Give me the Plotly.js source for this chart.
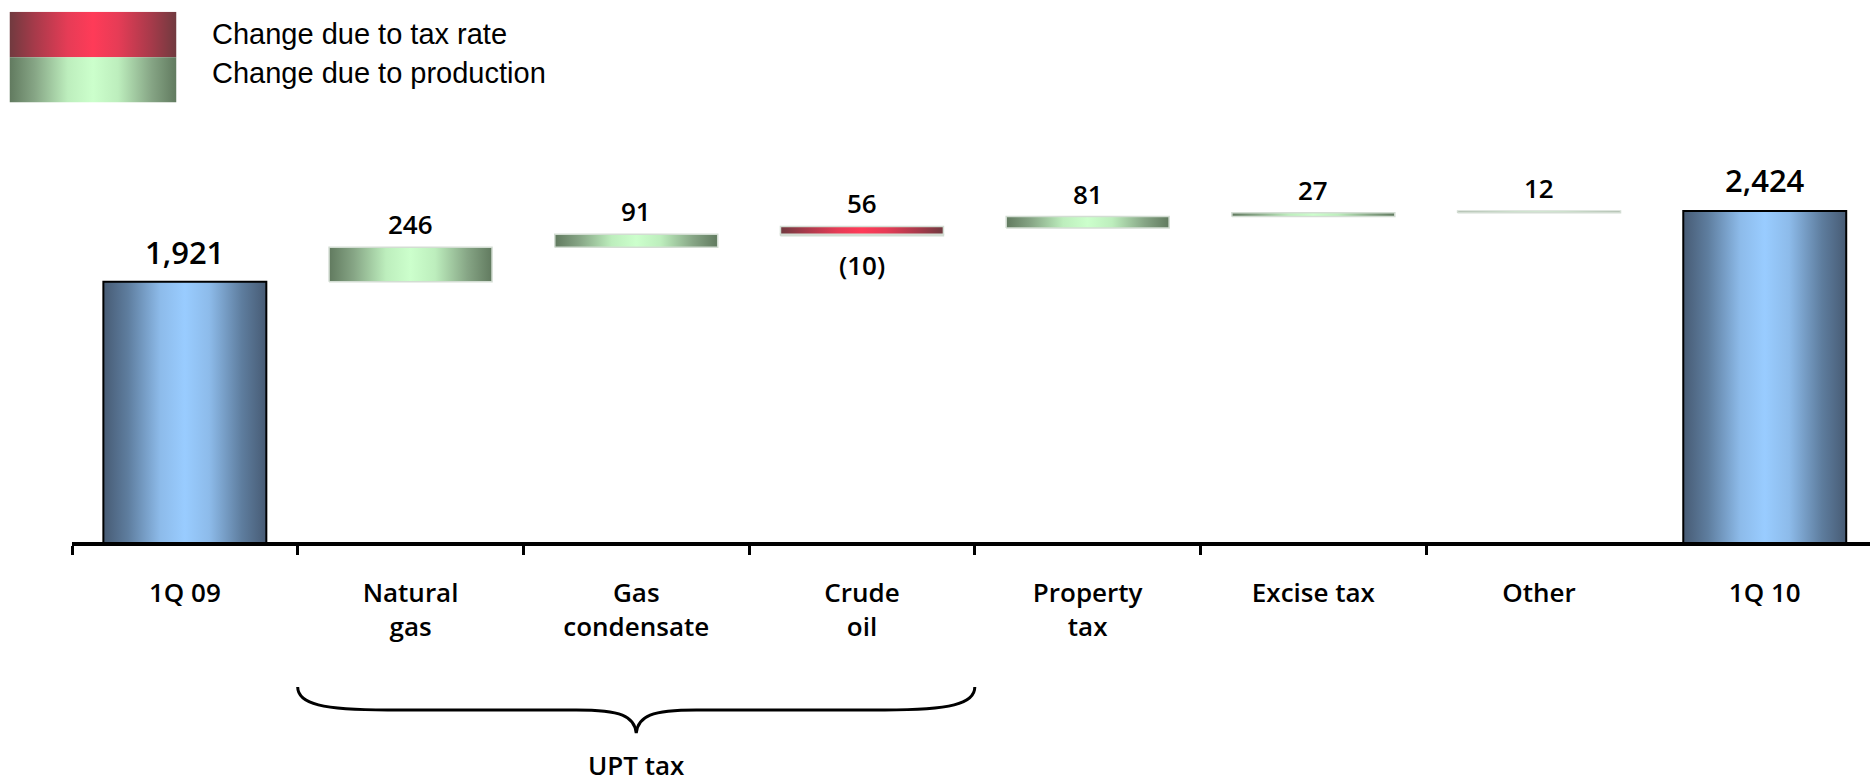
<!DOCTYPE html>
<html><head><meta charset="utf-8">
<script src="https://cdn.plot.ly/plotly-3.0.1.min.js"></script>
<style>html,body{margin:0;padding:0;background:#fff;} #chart{width:1870px;height:782px;}</style>
</head><body><div id="chart"></div>
<script>
// ---------------- data ----------------
const categories = ['1Q 09', 'Natural gas', 'Gas condensate', 'Crude oil', 'Property tax', 'Excise tax', 'Other', '1Q 10'];
const tickLabels = ['1Q 09', 'Natural<br>gas', 'Gas<br>condensate', 'Crude<br>oil', 'Property<br>tax', 'Excise tax', 'Other', '1Q 10'];
const startValue = 1921;
const endValue = 2424;
// changes for the middle categories (Natural gas .. Other)
const productionChange = [246, 91, -10, 81, 27, 12];
const taxRateChange    = [0, 0, 56, 0, 0, 0];
const legendLabels = ['Change due to tax rate', 'Change due to production'];
const groupLabel = 'UPT tax';
const groupFirst = 'Natural gas';
const groupLast = 'Crude oil';

// ---------------- styles ----------------
const W = 1870, H = 782;
const PX = v => v / W;
const PY = v => (H - v) / H;
const BAR_W = 0.722;
const CAT_PX = 225.7;
const FONT = 'Open Sans, Noto Sans, sans-serif';
const BLUE = [[0,'#475b74'],[0.15,'#5e7d9e'],[0.35,'#8dbbea'],[0.5,'#99ccff'],[0.65,'#8dbbea'],[0.85,'#5e7d9e'],[1,'#475b74']];
const GREEN = [[0,'#617a5f'],[0.15,'#86a585'],[0.35,'#bdeebd'],[0.5,'#ccffcc'],[0.65,'#bdeebd'],[0.85,'#86a585'],[1,'#617a5f']];
const RED = [[0,'#703a3f'],[0.15,'#a63a4a'],[0.35,'#e63c56'],[0.5,'#ff3b58'],[0.65,'#e63c56'],[0.85,'#a63a4a'],[1,'#703a3f']];

const fmt = v => v < 0 ? '(' + Math.abs(v).toLocaleString('en-US') + ')' : v.toLocaleString('en-US');

const traces = [];
const annotations = [];
function rect(xc, y0, y1, scale, lineColor, lineWidth, xa, ya, w) {
  const x0 = xc - w / 2, x1 = xc + w / 2;
  traces.push({
    type: 'scatter', mode: 'lines', xaxis: xa, yaxis: ya,
    x: [x0, x1, x1, x0, x0], y: [y0, y0, y1, y1, y0],
    fill: 'toself', fillcolor: scale[3][1],
    fillgradient: {type: 'horizontal', colorscale: scale},
    line: {color: lineColor, width: lineWidth},
    hoverinfo: 'skip', showlegend: false
  });
}
function label(i, y, text, size, above, shift) {
  annotations.push({
    xref: 'x', yref: 'y', x: i, y: y, text: text, showarrow: false,
    xanchor: 'center', yanchor: above ? 'bottom' : 'top', yshift: shift,
    font: {family: FONT, size: size, weight: 600, color: '#000'}
  });
}

// start bar
rect(0, 0, startValue, BLUE, '#000', 2, 'x', 'y', BAR_W);
label(0, startValue, fmt(startValue), 31, true, 7);

// changes
let level = startValue;
productionChange.forEach((p, k) => {
  const i = k + 1;
  let up = level, down = level;
  [[p, GREEN], [taxRateChange[k], RED]].forEach(([v, sc]) => {
    if (!v) return;
    if (v > 0) { rect(i, up, up + v, sc, '#d3ddd3', 1.5, 'x', 'y', BAR_W); up += v; }
    else { rect(i, down + v, down, sc, '#d3ddd3', 1.5, 'x', 'y', BAR_W); down += v; }
  });
  [[p], [taxRateChange[k]]].forEach(([v]) => {
    if (!v) return;
    if (v > 0) label(i, up, fmt(v), 26, true, 3);
    else label(i, down, fmt(v), 26, false, -9);
  });
  level += p + taxRateChange[k];
});

// end bar
const endIdx = categories.length - 1;
rect(endIdx, 0, endValue, BLUE, '#000', 2, 'x', 'y', BAR_W);
label(endIdx, endValue, fmt(endValue), 31, true, 8);

// legend swatches
rect(0.5, 0.5, 1, RED, 'rgba(0,0,0,0)', 0, 'x2', 'y2', 1);
rect(0.5, 0, 0.5, GREEN, 'rgba(0,0,0,0)', 0, 'x2', 'y2', 1);
annotations.push({xref:'paper', yref:'paper', x: PX(210), y: PY(34), xanchor:'left', yanchor:'middle', showarrow:false,
  text: legendLabels[0], font:{family:'Liberation Sans, Arial, sans-serif', size:29, color:'#000'}});
annotations.push({xref:'paper', yref:'paper', x: PX(210), y: PY(73.5), xanchor:'left', yanchor:'middle', showarrow:false,
  text: legendLabels[1], font:{family:'Liberation Sans, Arial, sans-serif', size:29, color:'#000'}});

// brace under the UPT tax group
const gL = categories.indexOf(groupFirst) - 0.5;
const gR = categories.indexOf(groupLast) + 0.5;
const gM = (gL + gR) / 2;
const u = 1 / CAT_PX;
const yTop = PY(687), yMid = PY(710), yTip = PY(733);
const bracePath = [
  `M ${gL},${yTop}`,
  `C ${gL},${PY(704)} ${gL + 25*u},${yMid} ${gL + 90*u},${yMid}`,
  `L ${gM - 60*u},${yMid}`,
  `C ${gM - 15*u},${yMid} ${gM - 2*u},${PY(716)} ${gM},${yTip}`,
  `C ${gM + 2*u},${PY(716)} ${gM + 15*u},${yMid} ${gM + 60*u},${yMid}`,
  `L ${gR - 90*u},${yMid}`,
  `C ${gR - 25*u},${yMid} ${gR},${PY(704)} ${gR},${yTop}`
].join(' ');
const shapes = [{type:'path', xref:'x', yref:'paper', path: bracePath, line:{color:'#000', width:3}}];
annotations.push({xref:'x', yref:'paper', x: gM, y: PY(765), xanchor:'center', yanchor:'middle', showarrow:false,
  borderpad: 0, text: groupLabel, font:{family: FONT, size: 26, weight: 600, color:'#000'}});

const yMin = 70, yScale = 0.1406;
const layout = {
  width: W, height: H, margin: {l:0, r:0, t:0, b:0},
  paper_bgcolor: '#fff', plot_bgcolor: 'rgba(0,0,0,0)', showlegend: false,
  xaxis: {
    domain: [PX(72), 1], range: [-0.5, -0.5 + (W - 72) / CAT_PX],
    tickmode: 'array', tickvals: categories.map((c, i) => i), ticktext: tickLabels,
    ticks: '', showline: true, linewidth: 4, linecolor: '#000', showgrid: false, zeroline: false,
    ticklabelstandoff: 25,
    tickfont: {family: FONT, size: 26, weight: 600, color: '#000'},
    minor: {tickmode: 'array', tickvals: categories.slice(0, -1).map((c, i) => i - 0.5),
            ticks: 'outside', ticklen: 9, tickwidth: 3, tickcolor: '#000', showgrid: false},
    fixedrange: true
  },
  yaxis: {domain: [PY(542), PY(100)], range: [yMin, yMin + 442 / yScale], visible: false, fixedrange: true},
  xaxis2: {domain: [PX(9.5), PX(176.5)], range: [0, 1], visible: false, anchor: 'y2', fixedrange: true},
  yaxis2: {domain: [PY(102.6), PY(11.7)], range: [0, 1], visible: false, anchor: 'x2', fixedrange: true},
  annotations: annotations,
  shapes: shapes
};
Plotly.newPlot('chart', traces, layout, {displayModeBar: false, staticPlot: true});
</script>
</body></html>
